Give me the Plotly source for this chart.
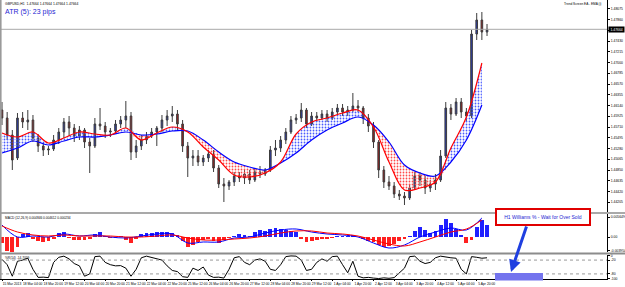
import numpy as np
import plotly.graph_objects as go

# ---------------- data ----------------
x_labels = ["15 Mar 2013", "18 Mar 04:00", "18 Mar 20:00", "19 Mar 12:00", "20 Mar 04:00",
            "20 Mar 20:00", "21 Mar 12:00", "22 Mar 04:00", "22 Mar 20:00", "25 Mar 12:00",
            "26 Mar 04:00", "26 Mar 20:00", "27 Mar 12:00", "28 Mar 04:00", "28 Mar 20:00",
            "29 Mar 12:00", "1 Apr 04:00", "1 Apr 20:00", "2 Apr 12:00", "3 Apr 04:00",
            "3 Apr 20:00", "4 Apr 12:00", "5 Apr 04:00", "5 Apr 20:00"]

price_ticks = ["1.48075", "1.47860", "1.47645", "1.47430", "1.47215", "1.47000", "1.46785",
               "1.46570", "1.46355", "1.46140", "1.45925", "1.45710", "1.45495", "1.45280",
               "1.45065", "1.44850", "1.44635", "1.44420", "1.44205"]

macd_ticks = ["0.005649", "0.00", "-0.003954"]
wpr_ticks = ["0", "-20", "-80", "-100"]

open_ = [1.4605, 1.4589, 1.4555, 1.4509, 1.4589, 1.4581, 1.4585, 1.4549, 1.4533, 1.4525,
         1.4527, 1.4545, 1.4561, 1.4581, 1.4569, 1.4553, 1.4565, 1.4541, 1.4533, 1.4577,
         1.4573, 1.4561, 1.4563, 1.4577, 1.4585, 1.4593, 1.4521, 1.4533, 1.4545, 1.4553,
         1.4561, 1.4569, 1.4585, 1.4593, 1.4597, 1.4577, 1.4533, 1.4509, 1.4513, 1.4501,
         1.4509, 1.4517, 1.4489, 1.4457, 1.4453, 1.4461, 1.4473, 1.4469, 1.4477, 1.4465,
         1.4481, 1.4477, 1.4485, 1.4525, 1.4529, 1.4545, 1.4561, 1.4585, 1.4589, 1.4605,
         1.4577, 1.4593, 1.4589, 1.4597, 1.4589, 1.4601, 1.4609, 1.4601, 1.4605, 1.4613,
         1.4609, 1.4589, 1.4573, 1.4541, 1.4485, 1.4461, 1.4453, 1.4437, 1.4433, 1.4429,
         1.4449, 1.4473, 1.4465, 1.4449, 1.4457, 1.4465, 1.4513, 1.4609, 1.4597, 1.4621,
         1.4601, 1.4593, 1.4757, 1.4785, 1.4761]
high = [1.4621, 1.4601, 1.4565, 1.4599, 1.4601, 1.4605, 1.4595, 1.4557, 1.4539, 1.4533,
        1.4555, 1.4569, 1.4589, 1.4593, 1.4577, 1.4573, 1.4569, 1.4549, 1.4589, 1.4609,
        1.4581, 1.4569, 1.4585, 1.4593, 1.4623, 1.4601, 1.4545, 1.4555, 1.4561, 1.4569,
        1.4573, 1.4595, 1.4605, 1.4613, 1.4605, 1.4585, 1.4541, 1.4525, 1.4525, 1.4515,
        1.4525, 1.4525, 1.4495, 1.4469, 1.4465, 1.4481, 1.4481, 1.4485, 1.4485, 1.4489,
        1.4493, 1.4489, 1.4533, 1.4545, 1.4553, 1.4569, 1.4593, 1.4597, 1.4619, 1.4609,
        1.4601, 1.4601, 1.4605, 1.4605, 1.4609, 1.4617, 1.4617, 1.4613, 1.4639, 1.4625,
        1.4613, 1.4597, 1.4581, 1.4545, 1.4493, 1.4473, 1.4461, 1.4445, 1.4441, 1.4457,
        1.4481, 1.4481, 1.4473, 1.4465, 1.4477, 1.4525, 1.4621, 1.4617, 1.4629, 1.4629,
        1.4609, 1.4765, 1.4799, 1.4801, 1.4777]
low = [1.4575, 1.4545, 1.4485, 1.4505, 1.4569, 1.4565, 1.4541, 1.4521, 1.4513, 1.4515,
       1.4523, 1.4537, 1.4549, 1.4553, 1.4541, 1.4545, 1.4529, 1.4479, 1.4529, 1.4565,
       1.4549, 1.4551, 1.4557, 1.4569, 1.4569, 1.4505, 1.4509, 1.4525, 1.4537, 1.4549,
       1.4533, 1.4561, 1.4573, 1.4581, 1.4565, 1.4521, 1.4471, 1.4493, 1.4493, 1.4493,
       1.4501, 1.4481, 1.4449, 1.4421, 1.4445, 1.4453, 1.4461, 1.4457, 1.4457, 1.4461,
       1.4469, 1.4473, 1.4481, 1.4513, 1.4521, 1.4537, 1.4557, 1.4577, 1.4581, 1.4569,
       1.4573, 1.4581, 1.4585, 1.4581, 1.4585, 1.4593, 1.4593, 1.4593, 1.4601, 1.4601,
       1.4577, 1.4561, 1.4529, 1.4469, 1.4449, 1.4445, 1.4429, 1.4425, 1.4415, 1.4425,
       1.4445, 1.4453, 1.4437, 1.4441, 1.4445, 1.4461, 1.4509, 1.4585, 1.4593, 1.4589,
       1.4581, 1.4589, 1.4745, 1.4745, 1.4753]
close = [1.4589, 1.4555, 1.4505, 1.4589, 1.4581, 1.4585, 1.4549, 1.4533, 1.4525, 1.4527,
         1.4545, 1.4561, 1.4581, 1.4569, 1.4553, 1.4565, 1.4541, 1.4533, 1.4577, 1.4573,
         1.4561, 1.4563, 1.4577, 1.4585, 1.4593, 1.4521, 1.4533, 1.4545, 1.4553, 1.4561,
         1.4569, 1.4585, 1.4593, 1.4597, 1.4577, 1.4533, 1.4509, 1.4513, 1.4501, 1.4509,
         1.4517, 1.4489, 1.4457, 1.4453, 1.4461, 1.4473, 1.4469, 1.4477, 1.4465, 1.4481,
         1.4477, 1.4485, 1.4525, 1.4529, 1.4545, 1.4561, 1.4585, 1.4589, 1.4605, 1.4577,
         1.4593, 1.4589, 1.4597, 1.4589, 1.4601, 1.4609, 1.4601, 1.4605, 1.4613, 1.4609,
         1.4589, 1.4573, 1.4541, 1.4485, 1.4461, 1.4453, 1.4437, 1.4433, 1.4429, 1.4449,
         1.4473, 1.4465, 1.4449, 1.4457, 1.4465, 1.4513, 1.4609, 1.4597, 1.4621, 1.4601,
         1.4593, 1.4757, 1.4785, 1.4761, 1.47664]

ema_fast = [1.4559, 1.4551, 1.4561, 1.4539, 1.4549, 1.4561, 1.4557, 1.4555, 1.4569, 1.4545,
            1.4559, 1.4571, 1.4561, 1.4531, 1.4505, 1.4475, 1.4471, 1.4479, 1.4501, 1.4557,
            1.4581, 1.4589, 1.4599, 1.4605, 1.4571, 1.4501, 1.4445, 1.4449, 1.4461, 1.4529,
            1.4591, 1.4699]
ema_slow = [1.4519, 1.4529, 1.4543, 1.4535, 1.4543, 1.4551, 1.4551, 1.4555, 1.4561, 1.4555,
            1.4557, 1.4563, 1.4563, 1.4545, 1.4521, 1.4501, 1.4491, 1.4485, 1.4499, 1.4519,
            1.4545, 1.4565, 1.4579, 1.4591, 1.4575, 1.4541, 1.4495, 1.4479, 1.4473, 1.4501,
            1.4545, 1.4615]

macd_hist = [-0.00170, -0.00396, -0.00424, -0.00283, 0.00085, 0.00113, -0.00057, -0.00113, -0.00141, -0.00113,
             -0.00057, 0.00113, 0.00141, -0.00028, -0.00085, -0.00085, -0.00085, -0.00057, 0.00085, 0.00141,
             0.00028, -0.00028, -0.00028, 0.00028, -0.00085, -0.00170, -0.00057, 0.00085, 0.00113, 0.00113,
             0.00141, 0.00141, 0.00141, 0.00113, 0.00057, -0.00113, -0.00283, -0.00226, -0.00141, -0.00085,
             -0.00057, -0.00113, -0.00170, -0.00085, -0.00028, 0.00028, 0.00085, 0.00057, 0.00028, 0.00141,
             0.00198, 0.00170, 0.00226, 0.00254, 0.00226, 0.00198, 0.00170, 0.00141, -0.00057, -0.00141,
             -0.00113, -0.00085, -0.00057, -0.00057, -0.00028, 0.00014, 0.00028, 0.00028, 0.00042, 0.00000,
             -0.00057, -0.00113, -0.00141, -0.00226, -0.00283, -0.00254, -0.00198, -0.00113, -0.00057, 0.00028,
             0.00170, 0.00283, 0.00198, 0.00113, 0.00170, 0.00339, 0.00509, 0.00396, 0.00226, 0.00057,
             -0.00170, -0.00085, 0.00283, 0.00480, 0.00339]
macd_main = [0.00339, 0.00000, 0.00028, 0.00000, 0.00085, 0.00028, 0.00057, 0.00000, -0.00028, 0.00028,
             0.00085, 0.00085, -0.00170, -0.00141, -0.00141, -0.00028, 0.00000, 0.00113, 0.00198, 0.00226,
             0.00141, 0.00085, 0.00057, 0.00000, -0.00170, -0.00311, -0.00226, 0.00000, 0.00141, 0.00254,
             0.00198, 0.00537]
macd_signal = [0.00311, 0.00141, 0.00057, 0.00028, 0.00057, 0.00028, 0.00028, 0.00028, 0.00000, 0.00000,
               0.00028, 0.00057, -0.00028, -0.00085, -0.00085, -0.00057, -0.00028, 0.00028, 0.00113, 0.00170,
               0.00170, 0.00113, 0.00085, 0.00028, -0.00085, -0.00198, -0.00254, -0.00141, 0.00000, 0.00141,
               0.00226, 0.00480]

williams = [-17, -40, -90, -25, -20, -12, -60, -95, -94, -96,
            -30, -8, -3, -15, -35, -45, -90, -80, -5, -3,
            -30, -40, -45, -44, -55, -90, -60, -10, -3, -8,
            -15, -20, -45, -65, -70, -92, -95, -55, -65, -50,
            -85, -95, -94, -98, -60, -10, -5, -30, -40, -20,
            -15, -25, -60, -65, -40, -5, -2, -3, -20, -65,
            -60, -30, -15, -25, -5, -3, -40, -75, -25, -90,
            -97, -95, -98, -100, -97, -99, -96, -75, -55, -5,
            -3, -25, -35, -30, -10, -3, -8, -10, -12, -60,
            -80, -5, -8, -12, -10]

# ---------------- positions (H1 bar index) ----------------
bars = np.arange(len(close)) * 4          # one candle every 4 hourly bars
line_bars = np.arange(len(ema_fast)) * 12  # indicator lines sampled every 12 bars
label_bars = np.arange(len(x_labels)) * 16  # MT4 time label every 16 bars

W, H = 625, 287
def px(p):
    return p / W
def py(p):
    return 1 - p / H

X_RIGHT = 607
FONT = "Liberation Sans"

fast = np.array(ema_fast)
slow = np.array(ema_slow)

fig = go.Figure()

# hatched area between the two EMAs
fig.add_trace(go.Scatter(x=line_bars, y=slow, mode="lines", line=dict(width=0, shape="spline"),
                         hoverinfo="skip"))
fig.add_trace(go.Scatter(x=line_bars, y=np.maximum(fast, slow), mode="lines",
                         line=dict(width=0, shape="spline"), fill="tonexty",
                         fillcolor="rgba(255,255,255,0)",
                         fillpattern=dict(shape=".", fgcolor="#4a5cff", bgcolor="rgba(255,255,255,0)",
                                          size=3, solidity=0.28),
                         hoverinfo="skip"))
fig.add_trace(go.Scatter(x=line_bars, y=slow, mode="lines", line=dict(width=0, shape="spline"),
                         hoverinfo="skip"))
fig.add_trace(go.Scatter(x=line_bars, y=np.minimum(fast, slow), mode="lines",
                         line=dict(width=0, shape="spline"), fill="tonexty",
                         fillcolor="rgba(255,255,255,0)",
                         fillpattern=dict(shape=".", fgcolor="#ff4a4a", bgcolor="rgba(255,255,255,0)",
                                          size=3, solidity=0.28),
                         hoverinfo="skip"))

fig.add_trace(go.Candlestick(
    x=bars, open=open_, high=high, low=low, close=close,
    increasing=dict(line=dict(color="#3c3c3c", width=1), fillcolor="#2a3ab0"),
    decreasing=dict(line=dict(color="#3c3c3c", width=1), fillcolor="#9a2020"),
    whiskerwidth=0, hoverinfo="skip"))

fig.add_trace(go.Scatter(x=line_bars, y=ema_slow, mode="lines",
                         line=dict(color="#0000ff", width=1.2, shape="spline")))
fig.add_trace(go.Scatter(x=line_bars, y=ema_fast, mode="lines",
                         line=dict(color="#ff0000", width=1.2, shape="spline")))

# MACD
hist_colors = ["#2020ff" if v >= 0 else "#ff2020" for v in macd_hist]
fig.add_trace(go.Bar(x=bars, y=macd_hist, width=3.0, marker=dict(color=hist_colors, line=dict(width=0)),
                     yaxis="y2", hoverinfo="skip"))
fig.add_trace(go.Scatter(x=line_bars, y=macd_main, mode="lines", yaxis="y2",
                         line=dict(color="#0000ff", width=1, shape="spline")))
fig.add_trace(go.Scatter(x=line_bars, y=macd_signal, mode="lines", yaxis="y2",
                         line=dict(color="#ff0000", width=1, shape="spline")))

# Williams %R
fig.add_trace(go.Scatter(x=bars, y=williams, mode="lines", yaxis="y3",
                         line=dict(color="#000000", width=1)))

tickfont = dict(family=FONT, size=3.4, color="#000000")
yaxis_common = dict(side="right", anchor="x", showgrid=False, zeroline=False, showline=True,
                    linecolor="#000000", linewidth=1, ticks="outside", ticklen=2, tickcolor="#000000",
                    tickfont=tickfont, automargin=False, fixedrange=True)

fig.update_layout(
    template="none",
    width=W, height=H,
    margin=dict(l=0, r=0, t=0, b=0),
    paper_bgcolor="#ffffff", plot_bgcolor="#ffffff",
    showlegend=False,
    font=dict(family=FONT, size=4),
    bargap=0,
    boxgap=0.55,
    xaxis=dict(domain=[0, px(X_RIGHT)], range=[-1.55, 469], anchor="y3",
               tickvals=label_bars, ticktext=x_labels, tickangle=0,
               tickfont=dict(family=FONT, size=3.3, color="#000"),
               ticks="outside", ticklen=1, tickcolor="#000", ticklabelshift=10, ticklabelstandoff=0,
               showgrid=False, zeroline=False, showline=True, linecolor="#000", linewidth=1,
               rangeslider=dict(visible=False), automargin=False, fixedrange=True),
    yaxis=dict(domain=[py(212), 1], range=[1.4825 - 0.0424, 1.4825],
               tickvals=[float(t) for t in price_ticks], ticktext=price_ticks, **yaxis_common),
    yaxis2=dict(domain=[py(252), py(214)], range=[-0.00424, 0.0065],
                tickvals=[float(t) for t in macd_ticks], ticktext=macd_ticks, **yaxis_common),
    yaxis3=dict(domain=[py(279), py(255)], range=[-102, 2],
                tickvals=[float(t) for t in wpr_ticks], ticktext=wpr_ticks, **yaxis_common),
)

shapes = [
    # current price line
    dict(type="line", xref="paper", yref="y", x0=0, x1=px(X_RIGHT), y0=close[-1], y1=close[-1],
         line=dict(color="#a8a8a8", width=1)),
    # window separators
    dict(type="line", xref="paper", yref="paper", x0=0, x1=1, y0=py(213), y1=py(213),
         line=dict(color="#8c8c8c", width=1.5)),
    dict(type="line", xref="paper", yref="paper", x0=0, x1=1, y0=py(253.5), y1=py(253.5),
         line=dict(color="#8c8c8c", width=2)),
    # left frame
    dict(type="line", xref="paper", yref="paper", x0=px(0.8), x1=px(0.8), y0=py(279), y1=1,
         line=dict(color="#9a9a9a", width=1.6)),
    # %R levels
    dict(type="line", xref="paper", yref="y3", x0=0, x1=px(X_RIGHT), y0=-20, y1=-20,
         line=dict(color="#9a9a9a", width=1, dash="dot")),
    dict(type="line", xref="paper", yref="y3", x0=0, x1=px(X_RIGHT), y0=-80, y1=-80,
         line=dict(color="#9a9a9a", width=1, dash="dot")),
    # blue target rectangle
    dict(type="rect", xref="paper", yref="paper", x0=px(495), x1=px(543), y0=py(280.5), y1=py(273),
         fillcolor="#7474ee", line=dict(width=0)),
]
fig.update_layout(shapes=shapes)

annotations = [
    dict(text="GBPUSD,H1  1.47664 1.47664 1.47664 1.47664", xref="paper", yref="paper",
         x=px(3), y=py(3.5), xanchor="left", yanchor="middle", showarrow=False,
         font=dict(family=FONT, size=3.4, color="#000")),
    dict(text="ATR (5): 23 pips", xref="paper", yref="paper", x=px(2.5), y=py(11.5),
         xanchor="left", yanchor="middle", showarrow=False,
         font=dict(family=FONT, size=7, color="#1e1ed2")),
    dict(text="Trend Screen EA - EMA (i)", xref="paper", yref="paper", x=px(603), y=py(3.5),
         xanchor="right", yanchor="middle", showarrow=False,
         font=dict(family=FONT, size=3.2, color="#000")),
    dict(text=" 1.47664 ", xref="paper", yref="y", x=px(X_RIGHT + 1), y=close[-1],
         xanchor="left", yanchor="middle", showarrow=False, bgcolor="#000000", borderpad=0.5,
         font=dict(family=FONT, size=3.4, color="#ffffff")),
    dict(text="MACD (12,26,9) 0.004846 0.004612 0.000234", xref="paper", yref="paper",
         x=px(3), y=py(218), xanchor="left", yanchor="middle", showarrow=False,
         font=dict(family=FONT, size=3.2, color="#000")),
    dict(text="%R(14) -14.7059", xref="paper", yref="paper", x=px(3), y=py(257.5),
         xanchor="left", yanchor="middle", showarrow=False,
         font=dict(family=FONT, size=3.2, color="#000")),
    # callout box
    dict(text="H1 Williams % - Wait for Over Sold", xref="paper", yref="paper",
         x=px(542.5), y=py(216.5), xanchor="center", yanchor="middle", showarrow=False,
         bgcolor="#ffffff", bordercolor="#e00000", borderwidth=2, borderpad=2,
         width=88, height=10,
         font=dict(family=FONT, size=5, color="#1e1ed2")),
    # arrow
    dict(text="", xref="paper", yref="paper", x=px(511), y=py(272), ax=16, ay=-47,
         axref="pixel", ayref="pixel", showarrow=True, arrowhead=2, arrowsize=0.8,
         arrowwidth=3, arrowcolor="#1f3fe0"),
]
fig.update_layout(annotations=annotations)

fig.write_html("out.html")
